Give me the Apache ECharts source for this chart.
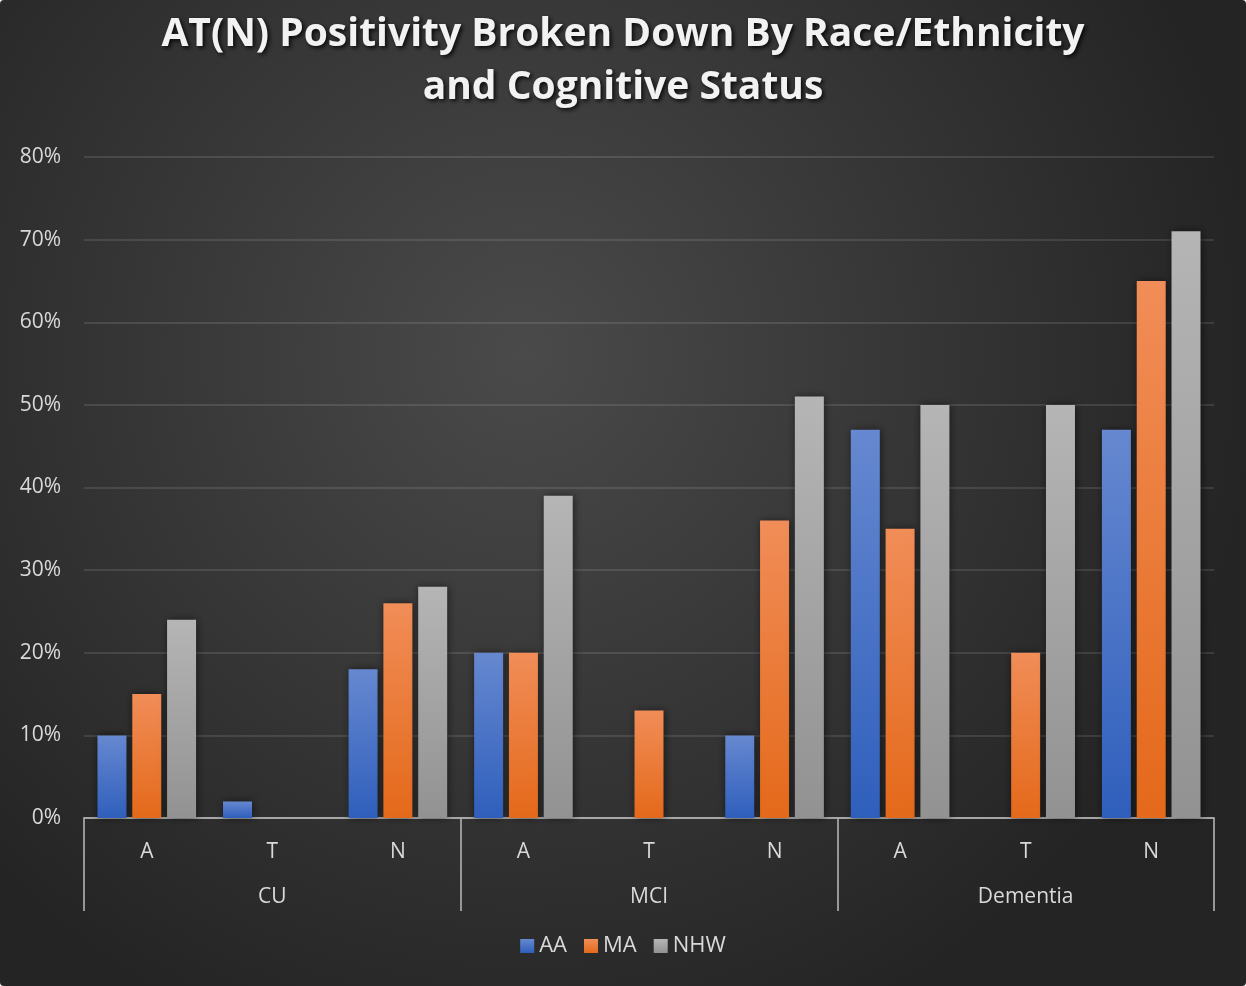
<!DOCTYPE html>
<html>
<head>
<meta charset="utf-8">
<title>AT(N) Positivity</title>
<script src="https://cdn.jsdelivr.net/npm/echarts@6/dist/echarts.min.js"></script>
<style>
  html, body { margin: 0; padding: 0; background: #ffffff; }
  #chart { width: 1246px; height: 986px; border-radius: 4px; overflow: hidden; }
</style>
</head>
<body>
<div id="chart"></div>
<script>
// Biomarker sub-categories (A, T, N) within each cognitive status group
const categories = ['A', 'T', 'N', 'A', 'T', 'N', 'A', 'T', 'N'];
const groups = ['CU', 'MCI', 'Dementia'];
const seriesNames = ['AA', 'MA', 'NHW'];

// Percent positive per category; null where no bar is shown
const aaValues  = [10, 2, 18, 20, null, 10, 47, null, 47];
const maValues  = [15, null, 26, 20, 13, 36, 35, 20, 65];
const nhwValues = [24, null, 28, 39, null, 51, 50, 50, 71];

// Y axis: 0% .. 80% in steps of 10
const yMin = 0, yMax = 80, yStep = 10;

const fontFamily = '"Open Sans", "DejaVu Sans", sans-serif';

function vGrad(top, bottom) {
  return new echarts.graphic.LinearGradient(0, 0, 0, 1, [
    { offset: 0, color: top },
    { offset: 1, color: bottom }
  ]);
}

const palette = [
  vGrad('#6688d0', '#2f5fbc'),
  vGrad('#f18d58', '#e4691a'),
  vGrad('#b5b5b5', '#929292')
];

const valueSets = [aaValues, maValues, nhwValues];

const chart = echarts.init(document.getElementById('chart'), null, { renderer: 'canvas' });

chart.setOption({
  backgroundColor: new echarts.graphic.RadialGradient(0.42, 0.36, 0.75, [
    { offset: 0, color: '#4a4a4a' },
    { offset: 1, color: '#242424' }
  ]),
  animation: false,
  title: {
    text: 'AT(N) Positivity Broken Down By Race/Ethnicity\nand Cognitive Status',
    left: 'center',
    top: 3,
    textStyle: {
      color: '#f2f2f2',
      fontFamily: fontFamily,
      fontWeight: 'bold',
      fontSize: 39,
      lineHeight: 53,
      textShadowColor: 'rgba(0,0,0,0.85)',
      textShadowBlur: 4,
      textShadowOffsetX: 2,
      textShadowOffsetY: 2
    }
  },
  legend: {
    bottom: 24,
    left: 'center',
    icon: 'rect',
    itemWidth: 14,
    itemHeight: 14,
    itemGap: 17,
    data: seriesNames,
    textStyle: { color: '#d9d9d9', fontSize: 22, fontFamily: fontFamily, padding: [0, 0, 0, 0] }
  },
  grid: { left: 84, right: 32, top: 157, bottom: 168, containLabel: false },
  xAxis: [
    {
      type: 'category',
      data: categories,
      position: 'bottom',
      axisLine: { show: true, lineStyle: { color: 'rgba(200,200,200,0.75)', width: 2 } },
      axisTick: { show: false },
      axisLabel: { color: '#d9d9d9', fontSize: 21, fontFamily: fontFamily, margin: 24 }
    },
    {
      type: 'category',
      data: groups,
      position: 'bottom',
      axisLine: { show: false },
      axisTick: { show: true, length: 93, lineStyle: { color: 'rgba(170,170,170,0.85)', width: 2 } },
      axisLabel: { color: '#d9d9d9', fontSize: 21, fontFamily: fontFamily, margin: 69 }
    }
  ],
  yAxis: {
    type: 'value',
    min: yMin,
    max: yMax,
    interval: yStep,
    axisLine: { show: false },
    axisTick: { show: false },
    axisLabel: {
      color: '#d9d9d9',
      fontSize: 21,
      fontFamily: fontFamily,
      margin: 23,
      formatter: v => v + '%'
    },
    splitLine: { lineStyle: { color: 'rgba(255,255,255,0.11)', width: 2 } }
  },
  series: seriesNames.map((name, i) => ({
    name: name,
    type: 'bar',
    xAxisIndex: 0,
    data: valueSets[i],
    barWidth: 29,
    barGap: '20%',
    itemStyle: {
      color: palette[i],
      shadowColor: 'rgba(0,0,0,0.55)',
      shadowBlur: 8,
      shadowOffsetX: 1,
      shadowOffsetY: 0
    }
  }))
});
</script>
</body>
</html>
